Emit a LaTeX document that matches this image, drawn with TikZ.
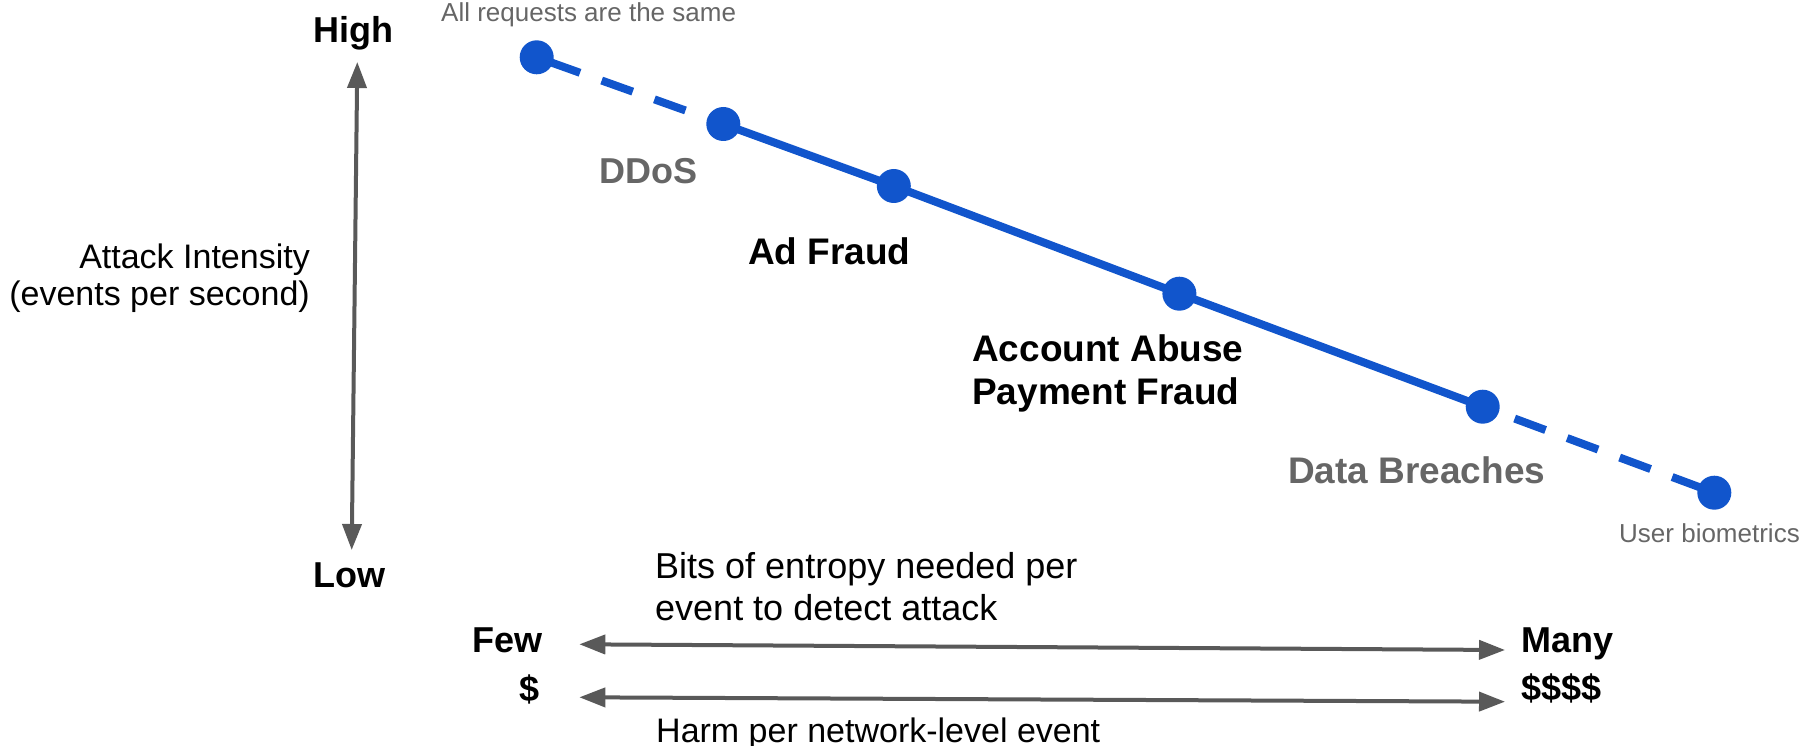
\documentclass[tikz,border=0pt]{standalone}
\usepackage{fontspec}
\setmainfont{Liberation Sans}
\usetikzlibrary{arrows.meta,backgrounds}
\definecolor{lineblue}{HTML}{1155CC}
\definecolor{txtgray}{HTML}{666666}
\definecolor{arrgray}{HTML}{595959}
\begin{document}
\begin{tikzpicture}[x=1pt,y=-1pt,
  dot/.style={circle,fill=lineblue,inner sep=0pt,minimum size=34pt},
  blueline/.style={draw=lineblue,line width=8pt},
  axisarrow/.style={draw=arrgray,line width=4pt,{Triangle[length=26pt,width=19pt]}-{Triangle[length=26pt,width=19pt]}},
  boldlbl/.style={font=\fontsize{36}{43}\selectfont\bfseries,inner sep=0pt},
  ptlbl/.style={font=\fontsize{37}{43}\selectfont\bfseries,inner sep=0pt},
  plainlbl/.style={font=\fontsize{36}{42}\selectfont,inner sep=0pt},
  axislbl/.style={font=\fontsize{34}{37}\selectfont,inner sep=0pt},
  notelbl/.style={font=\fontsize{26}{30}\selectfont,text=txtgray,inner sep=0pt}
]
\useasboundingbox (0,0) rectangle (1806,746);

% data points
\node[dot] (d1) at (536.7,57.3) {};
\node[dot] (d2) at (723.3,124) {};
\node[dot] (d3) at (893.8,186) {};
\node[dot] (d4) at (1179.4,293.7) {};
\node[dot] (d5) at (1482.7,406.7) {};
\node[dot] (d6) at (1714.3,492.7) {};

\begin{scope}[on background layer]
  \draw[blueline,dash pattern=on 46pt off 23pt on 33pt off 23pt on 33pt off 60pt] (d1.center) -- (d2.center);
  \draw[blueline] (d2.center) -- (d3.center) -- (d4.center) -- (d5.center);
  \draw[blueline,dash pattern=on 45pt off 23pt on 33pt off 23pt on 33pt off 23pt on 33pt off 60pt] (d6.center) -- (d5.center);
\end{scope}

% point labels
\node[notelbl,anchor=base west] (allreq) at (441,22) {All requests are the same};
\node[boldlbl,text=txtgray,anchor=base west] (ddos) at (599,184) {DDoS};
\node[ptlbl,anchor=base west] (adfraud) at (748,264) {Ad Fraud};
\node[ptlbl,anchor=base west] (acct) at (972,361) {Account Abuse};
\node[ptlbl,anchor=base west] (pay) at (972,404) {Payment Fraud};
\node[ptlbl,text=txtgray,anchor=base west] (breach) at (1288,483) {Data Breaches};
\node[notelbl,anchor=base west] (bio) at (1619,542) {User biometrics};

% vertical axis
\node[boldlbl,anchor=base] (high) at (353.5,43) {High};
\node[boldlbl,anchor=base] (low) at (349.5,587) {Low};
\coordinate (vtop) at (357.3,62);
\coordinate (vbot) at (351.7,550);
\draw[axisarrow] (vbot) -- (vtop);
\node[axislbl,anchor=base east] (ai1) at (310,268) {Attack Intensity};
\node[axislbl,anchor=base east] (ai2) at (310,305) {(events per second)};

% horizontal axes
\node[plainlbl,anchor=base west] (bits1) at (655,578) {Bits of entropy needed per};
\node[plainlbl,anchor=base west] (bits2) at (655,620) {event to detect attack};
\node[boldlbl,anchor=base east] (few) at (543,652) {Few};
\node[boldlbl,anchor=base east] (cheap) at (540,701) {\$};
\node[boldlbl,anchor=base west] (many) at (1521,652) {Many};
\node[boldlbl,anchor=base west] (costly) at (1521,700) {\$\$\$\$};
\coordinate (e1l) at (579.3,644.3);
\coordinate (e1r) at (1505,650);
\coordinate (e2l) at (579.3,697.3);
\coordinate (e2r) at (1505,701.7);
\draw[axisarrow] (e1l) -- (e1r);
\draw[axisarrow] (e2l) -- (e2r);
\node[font=\fontsize{34}{40}\selectfont,inner sep=0pt,anchor=base west] (harm) at (656,742) {Harm per network-level event};
\end{tikzpicture}
\end{document}
